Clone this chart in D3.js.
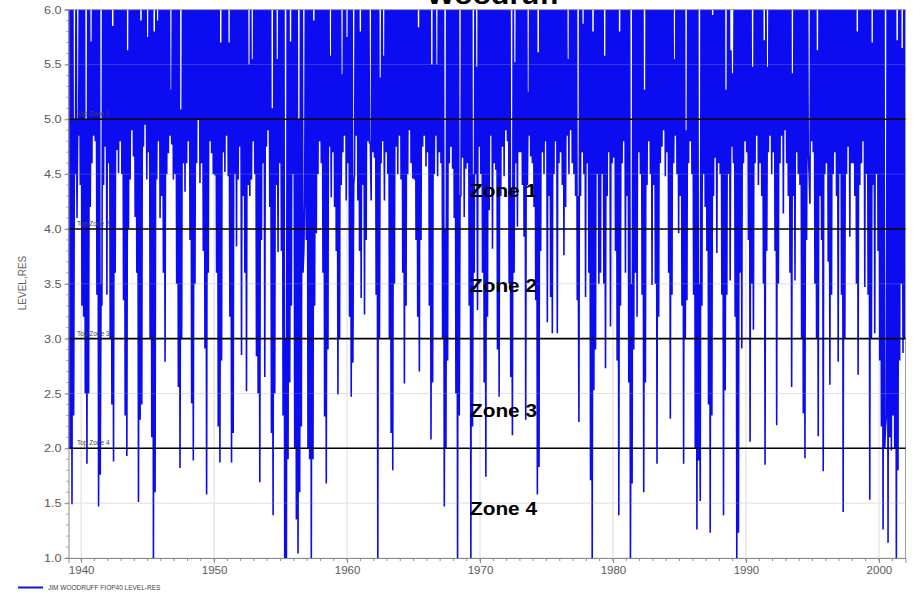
<!DOCTYPE html>
<html><head><meta charset="utf-8">
<script src="https://cdn.jsdelivr.net/npm/d3@7"></script>
<style>body{margin:0;background:#fff}svg{display:block}</style>
</head><body>
<svg id="chart" width="913" height="593"></svg>
<script>
// ---- DATA ----
// Lowest daily reservoir level within each eighth of a year (8 slots per year)
const firstYear = 1939;
const lows1939to1949 = [
  [2.0, 2.0, 1.49, 2.3, 4.5, 4.1, 4.85, 4.4],
  [3.3, 3.2, 2.5, 1.86, 2.5, 4.2, 4.6, 4.85],
  [4.8, 3.4, 1.47, 1.76, 3.3, 4.4, 4.75, 3.4],
  [4.6, 3.0, 2.4, 1.88, 3.6, 4.72, 4.51, 4.8],
  [4.5, 3.35, 2.3, 1.93, 4.0, 4.45, 4.9, 4.66],
  [4.11, 3.6, 1.51, 2.26, 2.4, 4.75, 4.95, 4.45],
  [4.7, 3.0, 2.1, 0.95, 1.6, 4.45, 4.8, 4.1],
  [4.3, 3.6, 2.79, 4.5, 4.69, 4.85, 4.77, 4.45],
  [4.5, 3.5, 2.56, 1.82, 3.0, 4.6, 4.34, 4.6],
  [4.8, 3.9, 2.41, 1.89, 3.5, 4.6, 5.0, 4.42],
  [4.6, 3.8, 2.91, 1.58, 3.6, 4.8, 4.69, 4.5]
];
const lows1950s = [
  [4.49, 3.6, 2.2, 1.87, 2.8, 4.7, 4.52, 4.85],
  [4.48, 3.2, 1.87, 2.14, 4.5, 3.84, 4.45, 4.75],
  [2.85, 4.3, 3.6, 2.52, 4.4, 4.3, 4.45, 4.8],
  [4.5, 2.84, 2.5, 1.69, 3.9, 4.6, 2.65, 4.75],
  [4.9, 4.2, 2.14, 1.39, 2.5, 4.4, 3.79, 4.6],
  [3.8, 2.3, 0.95, 0.95, 1.9, 2.6, 3.3, 4.5],
  [2.0, 1.35, 1.04, 1.6, 2.2, 3.6, 4.26, 3.9],
  [2.0, 1.9, 0.95, 1.9, 3.3, 3.96, 4.5, 4.8],
  [4.6, 3.6, 2.29, 1.68, 2.9, 4.75, 4.29, 4.7],
  [4.2, 3.8, 2.49, 3.0, 4.4, 4.7, 4.85, 4.26]
];
const lows1960s = [
  [4.6, 3.2, 2.47, 2.78, 4.5, 4.85, 4.26, 3.8],
  [3.37, 4.4, 3.22, 3.9, 4.8, 4.78, 4.26, 4.7],
  [4.65, 3.4, 0.95, 3.0, 4.6, 4.8, 4.26, 4.7],
  [4.5, 3.0, 2.14, 1.8, 3.5, 4.75, 4.5, 4.85],
  [4.45, 3.6, 2.59, 3.3, 4.5, 4.9, 4.6, 4.46],
  [4.45, 3.9, 3.2, 2.7, 3.9, 4.75, 4.85, 4.57],
  [4.7, 3.3, 2.08, 2.6, 4.5, 4.85, 4.48, 4.7],
  [4.6, 3.0, 1.47, 2.0, 2.8, 4.6, 4.75, 4.55],
  [4.1, 2.5, 0.95, 2.3, 4.3, 4.65, 4.11, 4.55],
  [4.6, 3.3, 0.95, 2.2, 3.6, 4.5, 3.26, 4.75]
];
const lows1970s = [
  [4.5, 3.6, 2.6, 1.74, 3.2, 4.17, 4.85, 3.82],
  [4.6, 4.54, 2.9, 2.47, 4.3, 4.75, 4.48, 4.9],
  [4.8, 3.5, 2.65, 2.12, 3.6, 4.6, 4.02, 4.7],
  [4.7, 4.4, 3.93, 2.26, 4.4, 4.85, 4.66, 4.6],
  [4.2, 3.35, 1.58, 1.83, 3.8, 4.7, 4.5, 4.8],
  [3.15, 4.3, 3.38, 3.05, 4.5, 4.8, 3.05, 4.6],
  [4.7, 4.4, 3.76, 4.2, 4.85, 4.5, 4.9, 4.6],
  [4.5, 4.3, 3.35, 2.24, 4.3, 4.7, 4.5, 3.38],
  [4.6, 3.6, 1.71, 0.95, 2.53, 2.9, 4.5, 3.5],
  [3.6, 4.5, 3.5, 2.73, 4.3, 4.7, 3.11, 4.6]
];
const lows1980s = [
  [4.65, 3.8, 2.8, 1.39, 3.3, 4.6, 4.8, 3.6],
  [4.3, 2.6, 0.95, 1.68, 2.9, 3.6, 3.2, 4.7],
  [4.5, 3.4, 1.6, 2.6, 4.4, 4.8, 4.5, 3.49],
  [4.4, 3.5, 1.86, 3.2, 4.6, 4.75, 4.9, 4.48],
  [4.7, 3.6, 2.27, 3.4, 4.6, 4.85, 4.5, 3.96],
  [4.3, 3.3, 1.86, 3.0, 3.35, 4.6, 4.8, 4.5],
  [3.4, 2.0, 1.26, 1.89, 1.52, 3.3, 4.5, 4.2],
  [3.8, 2.4, 1.23, 2.3, 4.3, 4.65, 3.78, 4.6],
  [4.5, 3.4, 1.39, 2.53, 3.4, 4.5, 3.53, 4.75],
  [4.6, 3.2, 0.95, 1.23, 3.6, 2.91, 4.6, 4.8]
];
const lows1990s = [
  [4.7, 3.9, 2.06, 3.5, 3.08, 4.6, 4.85, 4.4],
  [4.6, 4.3, 3.5, 1.85, 3.8, 4.7, 4.85, 4.5],
  [4.7, 3.8, 2.21, 3.5, 4.6, 4.85, 4.14, 4.9],
  [4.6, 4.3, 3.6, 2.56, 4.3, 3.53, 4.7, 4.5],
  [4.4, 3.0, 2.32, 1.91, 3.9, 4.7, 4.23, 4.8],
  [4.7, 3.5, 3.0, 2.11, 4.3, 3.9, 1.79, 4.5],
  [4.6, 3.7, 2.58, 3.4, 4.5, 4.7, 4.3, 2.79],
  [4.5, 3.4, 1.42, 3.0, 4.5, 4.75, 3.93, 4.6],
  [4.6, 4.3, 3.5, 2.67, 4.4, 4.6, 4.8, 3.47],
  [4.5, 3.4, 1.53, 3.0, 4.4, 3.05, 4.5, 3.8]
];
const lows2000s = [
  [2.8, 2.2, 1.26, 2.0, 2.3, 1.14, 2.1, 1.98],
  [2.3, 2.0, 0.95, 1.8, 2.8, 3.5, 2.87, 3.0]
];
// Times where the level never rose to the top of the view (peak below 6.0)
const capDates = [1939.44,1939.7,1940.38,1940.75,1941.5,1942.4,1943.53,1944.44,1945.04,1945.49,1945.79,1946.69,1947.56,
  1950.56,1951.09,1952.6,1952.86,1954.36,1954.74,1955.34,1955.71,1956.32,1956.73,1957.44,
  1958.72,1959.62,1960.0,1960.45,1960.98,1961.69,1962.48,1962.7,1965.34,1966.39,1966.77,1967.37,1968.5,1969.47,1969.77,
  1972.4,1972.63,1973.6,1974.36,1976.62,1977.37,1977.74,1978.5,1979.4,
  1980.53,1981.43,1982.41,1984.66,1985.49,1986.54,
  1987.52,1988.5,1988.87,1989.02,1990.45,1991.43,1991.65,1993.46,1994.81,1995.41,1998.42,1999.47,2000.45,2001.35,2001.69];
const capLevels = [5.0,5.0,5.0,5.71,3.5,5.85,5.63,5.9,5.75,5.8,5.9,5.27,5.09,
  5.7,5.7,5.5,5.55,5.1,5.55,3.0,5.71,5.0,3.8,5.9,
  5.58,5.41,5.75,4.4,5.8,4.8,5.38,5.58,5.84,5.5,5.5,4.0,4.3,4.5,5.48,
  4.3,5.52,5.25,5.61,5.55,4.3,5.87,5.8,5.58,
  5.8,3.5,5.27,5.55,4.9,3.5,
  5.95,5.27,5.63,5.42,5.48,5.72,5.48,5.42,4.5,5.63,5.8,5.7,2.2,5.72,5.65];
const zoneLevels = [5, 4, 3, 2];
const zoneTopLabels = ["Top Zone 1", "Top Zone 2", "Top Zone 3", "Top Zone 4"];
const zoneNames = ["Zone 1", "Zone 2", "Zone 3", "Zone 4"];
const yTickValues = [1.0, 1.5, 2.0, 2.5, 3.0, 3.5, 4.0, 4.5, 5.0, 5.5, 6.0];
const xTickValues = [1940, 1950, 1960, 1970, 1980, 1990, 2000];
const seriesName = "JIM WOODRUFF FIOP40 LEVEL-RES";
const yAxisTitle = "LEVEL,RES";
const titleText = "Woodruff";

// ---- DRAWING ----
const svg = d3.select("#chart");
const FONT = "'Liberation Sans', Arial, Helvetica, sans-serif";
const L = 68.5, R = 905.5, T = 9.6, B = 558;
const x = d3.scaleLinear().domain([1939.05, 2002.0]).range([L, R]);
const y = d3.scaleLinear().domain([1, 6]).range([B, T]);
const TOP = 6.5;

const allYears = [].concat(lows1939to1949, lows1950s, lows1960s, lows1970s, lows1980s, lows1990s, lows2000s);
const slots = [];
allYears.forEach((row, i) => row.forEach((v, k) => slots.push({t: firstYear + i + (k + 0.5) / 8, v})));
const half = 1 / 16;
function peakAfter(t0) {
  let v = TOP;
  capDates.forEach((c, j) => { if (c >= t0 && c < t0 + 2 * half) v = Math.min(v, capLevels[j]); });
  return v;
}
const pts = [{t: slots[0].t - half, v: TOP}];
slots.forEach(s => { pts.push(s); pts.push({t: s.t + half, v: peakAfter(s.t)}); });

const defs = svg.append("defs");
defs.append("clipPath").attr("id", "plotclip").append("rect")
  .attr("x", L).attr("y", T).attr("width", R - L).attr("height", B - T);

// background grid
const grid = svg.append("g");
grid.selectAll("line.v").data(xTickValues).join("line")
  .attr("x1", d => x(d)).attr("x2", d => x(d)).attr("y1", T).attr("y2", B)
  .attr("stroke", "#dcdcdc").attr("stroke-width", 1);
grid.selectAll("line.h").data(yTickValues).join("line")
  .attr("x1", L).attr("x2", R).attr("y1", d => y(d)).attr("y2", d => y(d))
  .attr("stroke", "#dcdcdc").attr("stroke-width", 1);

// series
const line = d3.line().x(d => x(d.t)).y(d => y(d.v));
svg.append("path").datum(pts)
  .attr("clip-path", "url(#plotclip)")
  .attr("d", line)
  .attr("fill", "none").attr("stroke", "#0c0cf0").attr("stroke-width", 1.6)
  .attr("stroke-linejoin", "bevel");

// faint grid over the data
const grid2 = svg.append("g");
grid2.selectAll("line").data(yTickValues.filter(v => v % 1 !== 0)).join("line")
  .attr("x1", L).attr("x2", R).attr("y1", d => y(d)).attr("y2", d => y(d))
  .attr("stroke", "rgba(255,255,255,0.18)").attr("stroke-width", 1);

// frame top/right
svg.append("line").attr("x1", L).attr("x2", R).attr("y1", T).attr("y2", T).attr("stroke", "#a0a0a0");
svg.append("line").attr("x1", R).attr("x2", R).attr("y1", T).attr("y2", B).attr("stroke", "#a0a0a0");

// zone lines
svg.selectAll("line.zone").data(zoneLevels).join("line")
  .attr("x1", L).attr("x2", R).attr("y1", d => y(d)).attr("y2", d => y(d))
  .attr("stroke", "#000").attr("stroke-width", 1.6);
svg.selectAll("text.ztop").data(zoneLevels).join("text")
  .attr("x", 77).attr("y", d => y(d) - 3).text((d, i) => zoneTopLabels[i])
  .attr("font-family", FONT).attr("font-size", 6.5).attr("fill", "#444");

// zone names
const zoneNameY = [190, 285, 410, 508];
svg.selectAll("text.zname").data(zoneNames).join("text")
  .attr("x", 470).attr("y", (d, i) => zoneNameY[i] + 6.5).text(d => d)
  .attr("font-family", FONT).attr("font-weight", "bold").attr("font-size", 18.5)
  .attr("textLength", 67).attr("lengthAdjust", "spacingAndGlyphs").attr("fill", "#000");

// y axis
const yAxis = d3.axisLeft(y).tickValues(yTickValues).tickFormat(d3.format(".1f")).tickSize(4).tickPadding(2);
const gy = svg.append("g").attr("transform", `translate(${L},0)`).call(yAxis);
gy.select(".domain").attr("stroke", "#8c8c8c");
gy.selectAll(".tick line").attr("stroke", "#8c8c8c");
gy.selectAll(".tick text").attr("font-family", FONT).attr("font-size", 11).attr("fill", "#5a5a5a")
  .attr("transform", "scale(1.15,1)");
svg.append("g").selectAll("line").data(d3.range(10, 61).map(v => v / 10)).join("line")
  .attr("x1", L - 2).attr("x2", L).attr("y1", d => y(d)).attr("y2", d => y(d)).attr("stroke", "#8c8c8c");

// x axis
const xAxis = d3.axisBottom(x).tickValues(xTickValues).tickFormat(d3.format("d")).tickSize(5).tickPadding(3);
const gx = svg.append("g").attr("transform", `translate(0,${B})`).call(xAxis);
gx.select(".domain").attr("stroke", "#8c8c8c");
gx.selectAll(".tick line").attr("stroke", "#8c8c8c");
gx.selectAll(".tick text").attr("font-family", FONT).attr("font-size", 11.5).attr("fill", "#5a5a5a");
svg.append("g").selectAll("line").data(d3.range(1940, 2002)).join("line")
  .attr("x1", d => x(d)).attr("x2", d => x(d)).attr("y1", B).attr("y2", B + 3).attr("stroke", "#8c8c8c");

// y axis title
svg.append("text").attr("transform", "translate(26,283) rotate(-90)").attr("text-anchor", "middle")
  .attr("font-family", FONT).attr("font-size", 10).attr("fill", "#666").text(yAxisTitle);

// title (cut off at the top, as in the original)
svg.append("text").attr("x", 493).attr("y", 3.5).attr("text-anchor", "middle")
  .attr("font-family", FONT).attr("font-weight", "bold").attr("font-size", 26)
  .attr("textLength", 133).attr("lengthAdjust", "spacingAndGlyphs").attr("fill", "#000").text(titleText);

// legend
svg.append("line").attr("x1", 18).attr("x2", 43).attr("y1", 587.5).attr("y2", 587.5)
  .attr("stroke", "#1414d8").attr("stroke-width", 2);
svg.append("text").attr("x", 48).attr("y", 590).attr("font-family", FONT).attr("font-size", 6.5)
  .attr("fill", "#444").text(seriesName);
</script>
</body></html>
